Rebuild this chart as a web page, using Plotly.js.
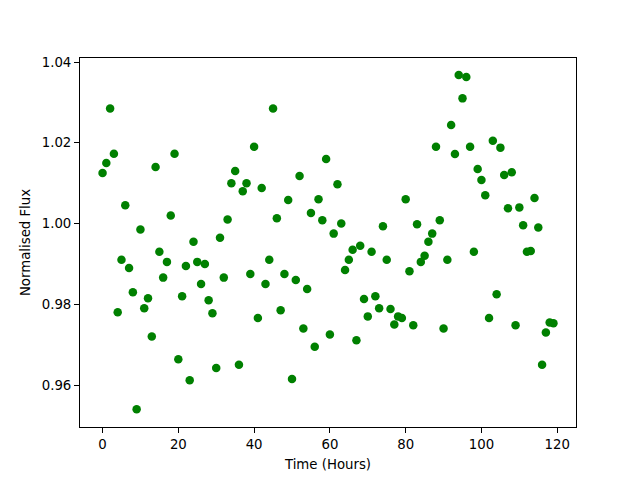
<!DOCTYPE html>
<html>
<head>
<meta charset="utf-8">
<script src="https://cdn.plot.ly/plotly-3.0.1.min.js"></script>
<style>html,body{margin:0;padding:0;background:#fff;}#chart{width:640px;height:480px;}</style>
</head>
<body>
<div id="chart"></div>
<script>
const timeHours = Array.from({length: 120}, (_, i) => i);
const normalisedFlux = [
  1.0125, 1.015, 1.0285, 1.0173, 0.978, 0.991, 1.0045, 0.989, 0.983, 0.954,
  0.9985, 0.979, 0.9815, 0.972, 1.014, 0.993, 0.9866, 0.9905, 1.002, 1.0173,
  0.9664, 0.982, 0.9895, 0.9612, 0.9955, 0.9905, 0.985, 0.990, 0.981, 0.9778,
  0.9642, 0.9965, 0.9866, 1.001, 1.010, 1.013, 0.965, 1.008, 1.010, 0.9875,
  1.019, 0.9766, 1.0088, 0.985, 0.991, 1.0285, 1.0013, 0.9785, 0.9875, 1.0058,
  0.9615, 0.986, 1.0118, 0.974, 0.9838, 1.0026, 0.9695, 1.006, 1.0008, 1.016,
  0.9725, 0.9975, 1.0097, 1.000, 0.9885, 0.991, 0.9935, 0.9711, 0.9945, 0.9813,
  0.977, 0.993, 0.982, 0.979, 0.9993, 0.991, 0.9788, 0.975, 0.977, 0.9766,
  1.006, 0.9882, 0.9748, 0.9998, 0.9905, 0.992, 0.9955, 0.9975, 1.019, 1.0008,
  0.974, 0.991, 1.0244, 1.0172, 1.0368, 1.031, 1.0363, 1.019, 0.993, 1.0135,
  1.0108, 1.007, 0.9766, 1.0205, 0.9825, 1.0188, 1.012, 1.0038, 1.0127, 0.9748,
  1.004, 0.9996, 0.993, 0.9932, 1.0063, 0.999, 0.965, 0.973, 0.9755, 0.9753
];
const xTicks = [0, 20, 40, 60, 80, 100, 120];
const yTicks = [0.96, 0.98, 1.00, 1.02, 1.04];

const font = {family: 'DejaVu Sans', size: 13.3, color: '#000'};
Plotly.newPlot('chart', [{
  x: timeHours, y: normalisedFlux, type: 'scatter', mode: 'markers',
  marker: {color: '#008000', size: 8.5, line: {width: 0}}
}], {
  width: 640, height: 480,
  margin: {l: 80, r: 64, t: 58, b: 53, pad: 0},
  paper_bgcolor: '#fff', plot_bgcolor: '#fff',
  font: font,
  showlegend: false,
  xaxis: {
    range: [-5.95, 124.95], tickvals: xTicks, ticktext: xTicks.map(String),
    showgrid: false, zeroline: false, showline: true, mirror: true,
    linecolor: '#000', linewidth: 1, ticks: 'outside', ticklen: 5, tickwidth: 1, tickcolor: '#000',
    title: {text: 'Time (Hours)', font: font, standoff: 8}, automargin: false
  },
  yaxis: {
    range: [0.9496, 1.041], tickvals: yTicks, ticktext: yTicks.map(v => v.toFixed(2)),
    showgrid: false, zeroline: false, showline: true, mirror: true,
    linecolor: '#000', linewidth: 1, ticks: 'outside', ticklen: 5, tickwidth: 1, tickcolor: '#000',
    title: {text: 'Normalised Flux', font: font, standoff: 8}, automargin: false
  }
}, {displayModeBar: false, staticPlot: true});
</script>
</body>
</html>
